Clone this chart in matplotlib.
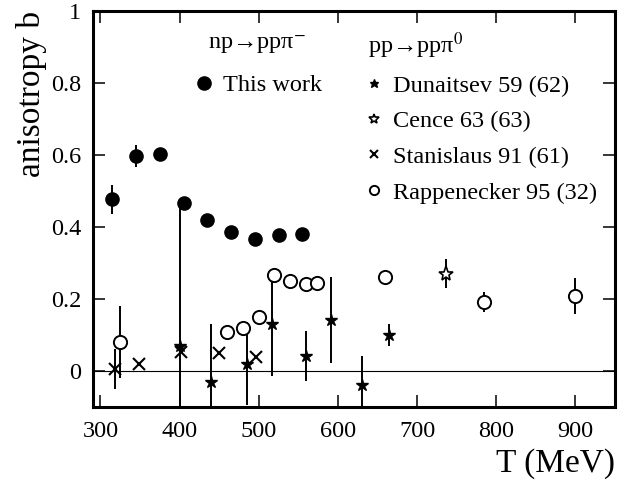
import matplotlib
matplotlib.use('Agg')
import matplotlib.pyplot as plt

plt.rcParams['font.family'] = ['Liberation Serif', 'DejaVu Serif']
plt.rcParams['mathtext.fontset'] = 'stix'

# np -> pp pi-  (this work)
this_T = [315, 345, 375, 405, 435, 465, 495, 525, 555]
this_b = [0.476, 0.597, 0.602, 0.465, 0.419, 0.386, 0.365, 0.377, 0.380]
this_err = [0.04, 0.03, 0.012, 0.012, 0.01, 0.01, 0.01, 0.01, 0.01]

# pp -> pp pi0
dun_T = [400, 440, 485, 517, 560, 591, 631, 665]
dun_b = [0.07, -0.03, 0.02, 0.13, 0.041, 0.141, -0.04, 0.099]
dun_err = [0.40, 0.16, 0.115, 0.145, 0.07, 0.12, 0.08, 0.03]

cen_T = [736]
cen_b = [0.270]
cen_err = [0.04]

sta_T = [319, 349, 402, 450, 496]
sta_b = [0.004, 0.019, 0.053, 0.048, 0.037]
sta_err = [0.055, 0.0, 0.0, 0.0, 0.0]

rap_T = [325, 460, 480, 500, 519, 540, 560, 573, 660, 785, 900]
rap_b = [0.081, 0.108, 0.120, 0.150, 0.266, 0.249, 0.241, 0.243, 0.261, 0.190, 0.207]
rap_err = [0.10, 0.01, 0.01, 0.01, 0.01, 0.01, 0.01, 0.02, 0.02, 0.028, 0.05]

fig = plt.figure(figsize=(6.39, 4.8), dpi=100)
ax = fig.add_axes([0.1448, 0.1527, 0.8176, 0.825])

ax.axhline(0, color='black', lw=0.8, zorder=1)

# error bars first, markers on top
for T, b, e in [(this_T, this_b, this_err), (dun_T, dun_b, dun_err),
                (cen_T, cen_b, cen_err), (sta_T, sta_b, sta_err),
                (rap_T, rap_b, rap_err)]:
    ax.errorbar(T, b, yerr=e, fmt='none', ecolor='black', elinewidth=1.4,
                capsize=0, zorder=2)

h_this, = ax.plot(this_T, this_b, 'o', color='black', ms=9.5, ls='none', zorder=4,
                  label='This work')
h_dun, = ax.plot(dun_T, dun_b, '*', color='black', ms=9, ls='none', zorder=4,
                 label='Dunaitsev 59 (62)')
h_cen, = ax.plot(cen_T, cen_b, '*', mfc='white', mec='black', mew=1.2, ms=11,
                 ls='none', zorder=4, label='Cence 63 (63)')
h_sta, = ax.plot(sta_T, sta_b, 'x', color='black', mew=1.5, ms=9, ls='none',
                 zorder=4, label='Stanislaus 91 (61)')
h_rap, = ax.plot(rap_T, rap_b, 'o', mfc='white', mec='black', mew=1.4, ms=9.5,
                 ls='none', zorder=3, label='Rappenecker 95 (32)')

ax.set_xlim(290, 950)
ax.set_ylim(-0.1, 1.0)
ax.set_xticks([300, 400, 500, 600, 700, 800, 900])
ax.set_yticks([0, 0.2, 0.4, 0.6, 0.8, 1.0])
ax.set_yticklabels(['0', '0.2', '0.4', '0.6', '0.8', '1'])
ax.tick_params(direction='in', length=8.5, width=1.1, top=True, right=True,
               labelsize=17.5)
ax.tick_params(axis='x', pad=10.5)
ax.tick_params(axis='y', pad=8)
for s in ax.spines.values():
    s.set_linewidth(2.2)

ax.set_ylabel('anisotropy b', fontsize=24, loc='top')
ax.yaxis.set_label_coords(-0.0865, 1.0)
ax.set_xlabel('T (MeV)', fontsize=24, loc='right')
ax.xaxis.set_label_coords(1.0, -0.105)

leg1 = ax.legend(handles=[h_this], title='np\u2192pp\u03c0$^{-}$', loc='upper left',
                 bbox_to_anchor=(0.19, 0.945), frameon=False, fontsize=17.5,
                 title_fontsize=17.5, borderpad=0, borderaxespad=0,
                 handlelength=1.0, handletextpad=0.3, labelspacing=0.76)
ax.add_artist(leg1)
ax.legend(handles=[h_dun, h_cen, h_sta, h_rap], title=' pp\u2192pp\u03c0$^{0}$',
          loc='upper left', bbox_to_anchor=(0.515, 0.95), frameon=False,
          fontsize=17.5, title_fontsize=17.5, borderpad=0, borderaxespad=0,
          handlelength=1.0, handletextpad=0.3, labelspacing=0.56,
          markerscale=0.7, alignment='left')

fig.savefig('out.png', dpi=100)
